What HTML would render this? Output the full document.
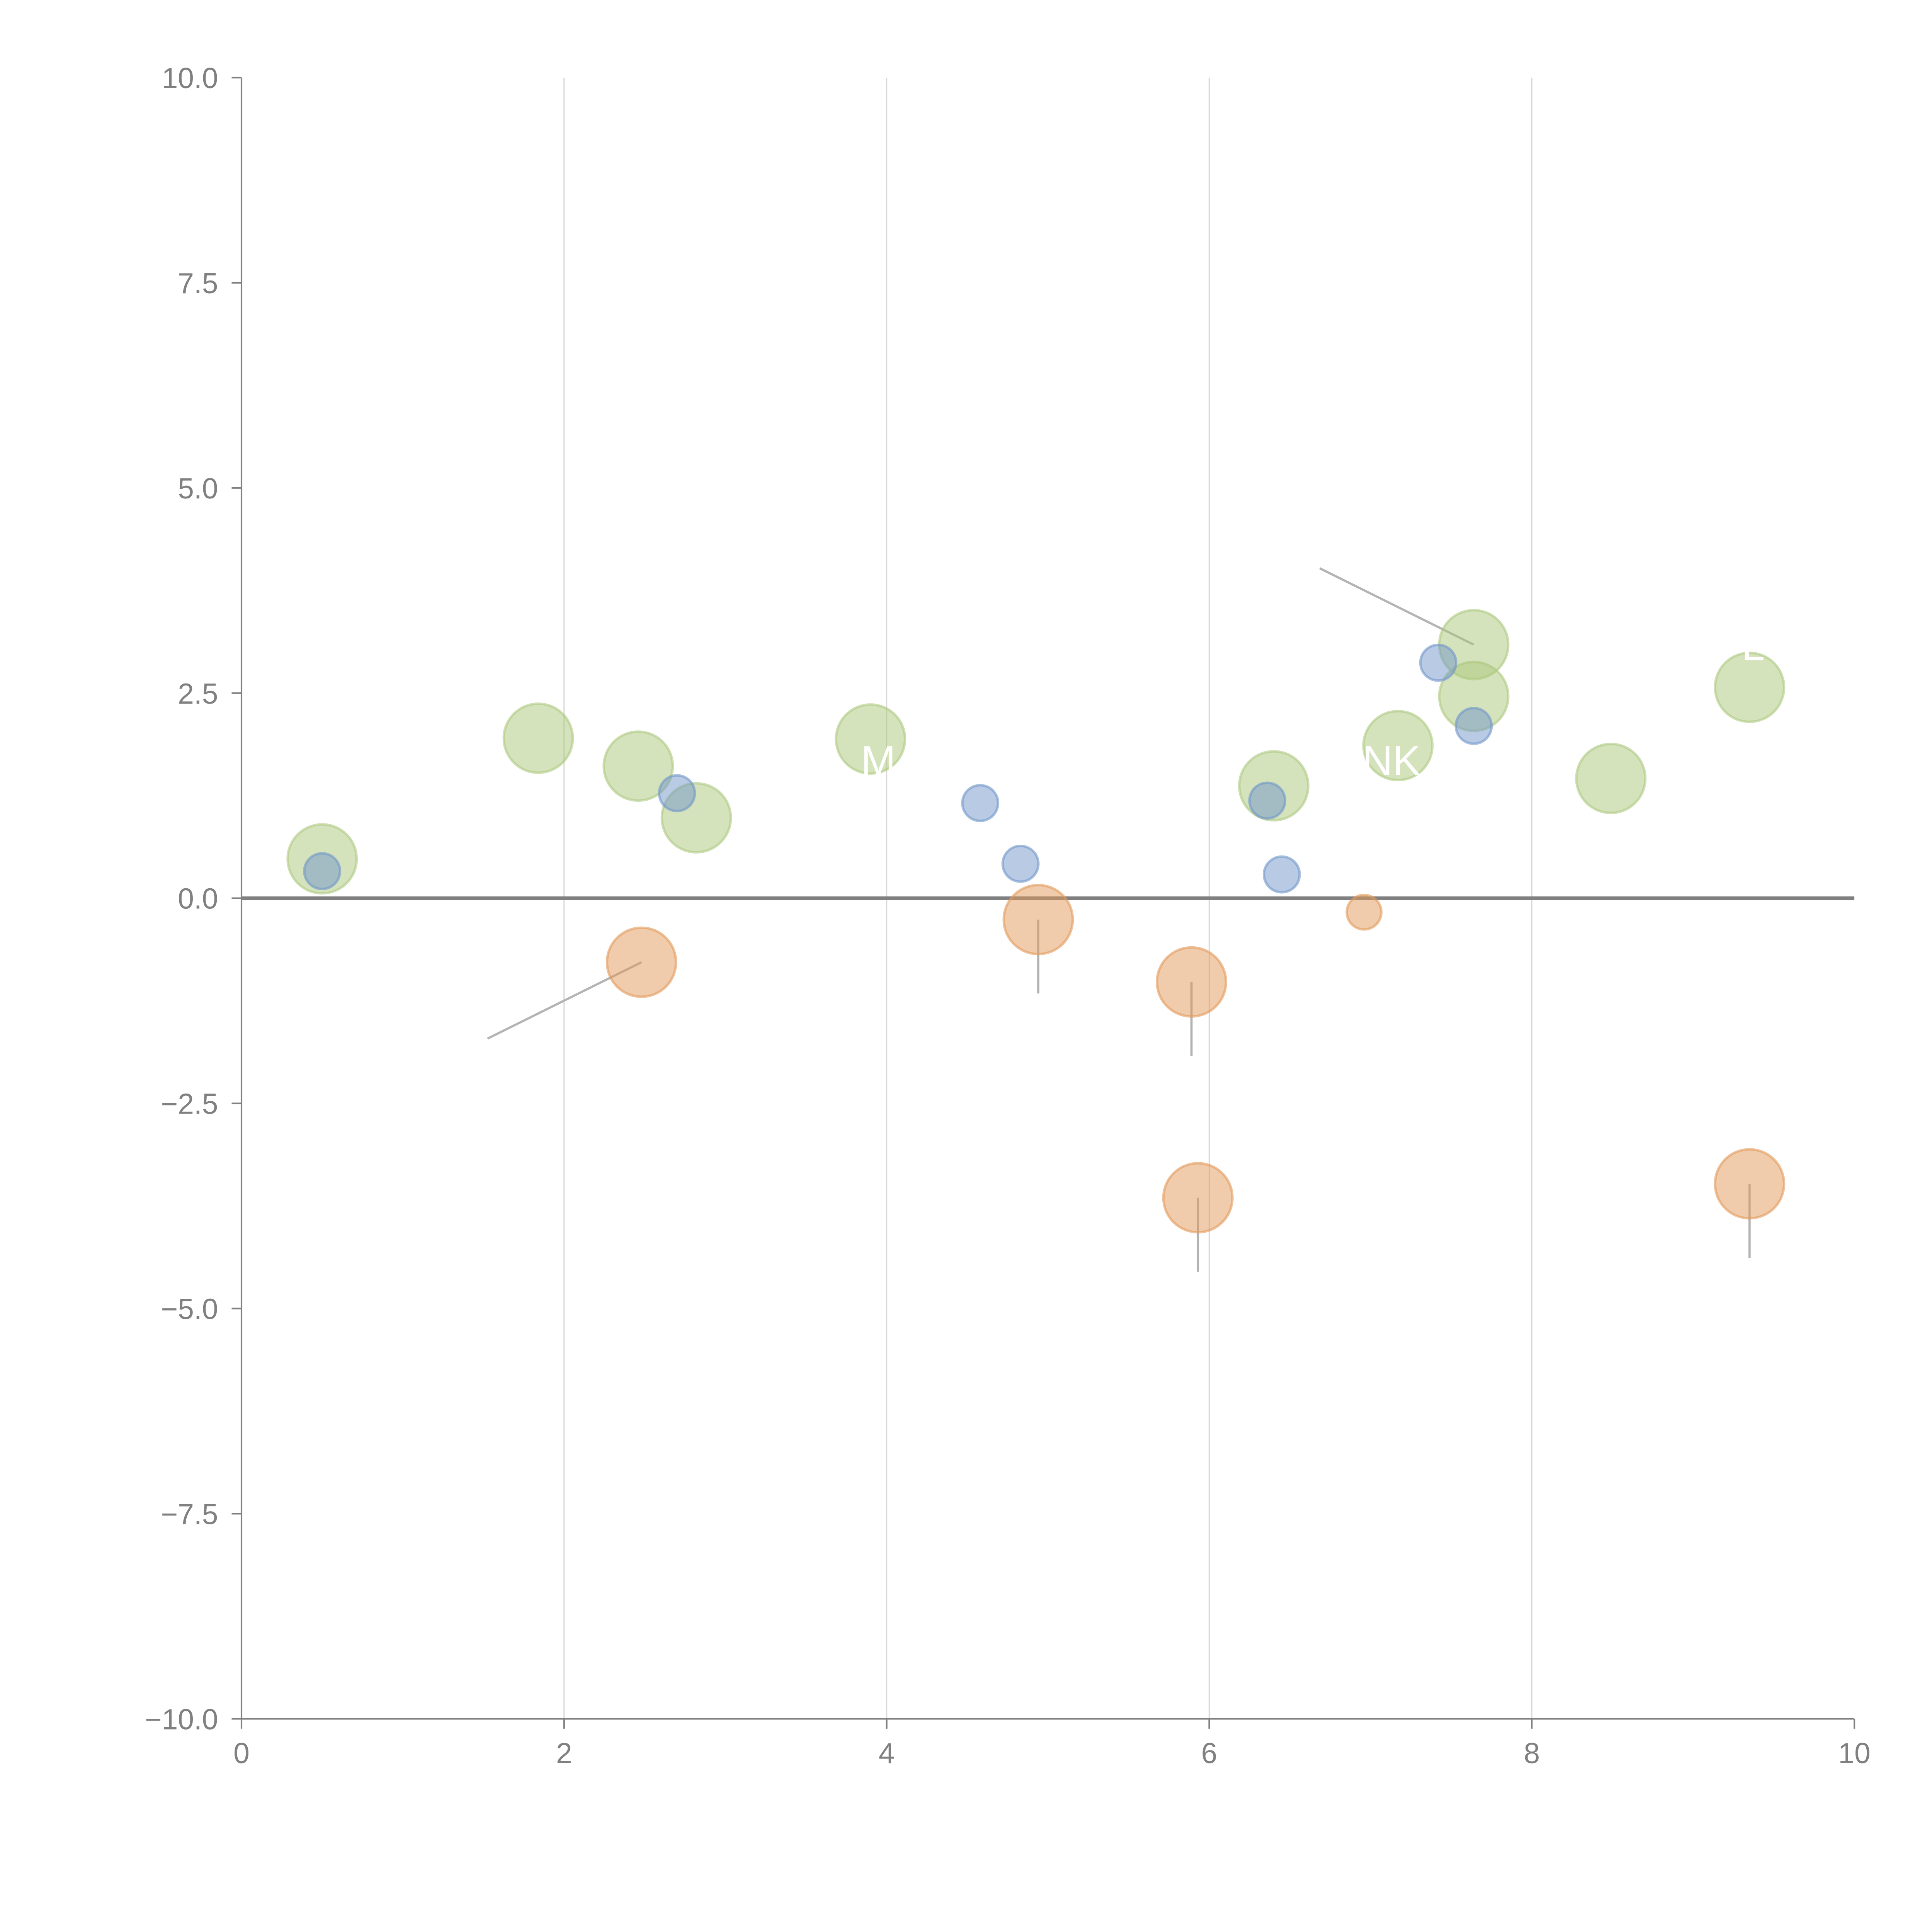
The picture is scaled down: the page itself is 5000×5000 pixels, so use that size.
<!DOCTYPE html>
<html><head><meta charset="utf-8"><style>html,body{margin:0;padding:0;background:#fff}svg{display:block}</style></head>
<body>
<svg id="chart" width="5000" height="5000" viewBox="0 0 1568 1568" xmlns="http://www.w3.org/2000/svg" font-family="Liberation Sans, sans-serif">
<g id="grid"></g>
<g id="axes"></g>
<g id="marks"></g>
</svg>
<script>
const xTicks = [0, 2, 4, 6, 8, 10];
const yTicks = [10, 7.5, 5, 2.5, 0, -2.5, -5, -7.5, -10];
const greenX = [0.50, 1.84, 2.46, 2.82, 3.90, 6.40, 7.17, 7.64, 7.64, 8.49, 9.35];
const greenY = [0.48, 1.95, 1.61, 0.98, 1.94, 1.37, 1.86, 3.09, 2.46, 1.46, 2.57];
const blueX = [0.50, 2.70, 4.58, 4.83, 6.36, 6.45, 7.42, 7.64];
const blueY = [0.33, 1.28, 1.16, 0.42, 1.19, 0.29, 2.87, 2.10];
const orangeX = [2.48, 4.94, 5.89, 5.93, 6.96, 9.35];
const orangeY = [-0.78, -0.26, -1.02, -3.65, -0.17, -3.48];
const orangeR = [28, 28, 28, 28, 14, 28];
const labelText = ["M", "NK", "C", "L"];
const labelX = [3.84, 6.95, 8.9, 9.3];
const labelY = [1.50, 1.50, 1.25, 2.90];

const NS = "http://www.w3.org/2000/svg";
const X0 = 196, X1 = 1505, Y0 = 1395, Y1 = 63;
const sx = v => X0 + (v - 0) / 10 * (X1 - X0);
const sy = v => Y0 - (v + 10) / 20 * (Y0 - Y1);
function mk(tag, attrs, parent) {
  const e = document.createElementNS(NS, tag);
  for (const k in attrs) e.setAttribute(k, attrs[k]);
  parent.appendChild(e);
  return e;
}
const grid = document.getElementById('grid');
const axes = document.getElementById('axes');
const marks = document.getElementById('marks');

xTicks.forEach(t => {
  if (t > 0 && t < 10) {
    const g = mk('line', {x1: sx(t), x2: sx(t), y1: Y1, y2: Y0, stroke: '#d9d9d9', 'stroke-width': 1}, grid);
    
    
  }
  const tk = mk('line', {x1: sx(t), x2: sx(t), y1: Y0, y2: Y0 + 8, stroke: '#808080', 'stroke-width': 1.3}, axes);
  
  
  const lb = mk('text', {x: sx(t), y: Y0 + 36, 'text-anchor': 'middle', 'font-size': 23.5, fill: '#808080'}, axes);
  lb.textContent = t;
  
  
});
yTicks.forEach(t => {
  const tk = mk('line', {x1: X0 - 8, x2: X0, y1: sy(t), y2: sy(t), stroke: '#808080', 'stroke-width': 1.3}, axes);
  
  
  const lb = mk('text', {x: X0 - 19, y: sy(t) + 8.5, 'text-anchor': 'end', 'font-size': 23.5, fill: '#808080'}, axes);
  lb.textContent = (t < 0 ? '\u2212' + Math.abs(t).toFixed(1) : t.toFixed(1));
  
  
});
const ya = mk('line', {x1: X0, x2: X0, y1: Y1, y2: Y0, stroke: '#808080', 'stroke-width': 1.3}, axes);


const xa = mk('line', {x1: X0, x2: X1, y1: Y0, y2: Y0, stroke: '#808080', 'stroke-width': 1.3}, axes);


const zl = mk('line', {x1: X0, x2: X1, y1: sy(0), y2: sy(0), stroke: '#808080', 'stroke-width': 3}, axes);



function leader(x, y, dx, dy) {
  const l = mk('line', {x1: sx(x), y1: sy(y), x2: sx(x) + dx, y2: sy(y) + dy, stroke: '#b3b3b3', 'stroke-width': 1.8}, marks);
  
  
}
leader(orangeX[0], orangeY[0], -125, 62);
leader(orangeX[1], orangeY[1], 0, 60);
leader(orangeX[2], orangeY[2], 0, 60);
leader(orangeX[3], orangeY[3], 0, 60);
leader(orangeX[5], orangeY[5], 0, 60);
leader(greenX[7], greenY[7], -125, -62);

greenX.forEach((x, i) => {
  const c = mk('circle', {cx: sx(x), cy: sy(greenY[i]), r: 28, fill: '#a9c77a', 'fill-opacity': 0.5, stroke: '#a9c77a', 'stroke-opacity': 0.55, 'stroke-width': 2}, marks);
  
  
});
blueX.forEach((x, i) => {
  const c = mk('circle', {cx: sx(x), cy: sy(blueY[i]), r: 14.5, fill: '#7196c9', 'fill-opacity': 0.5, stroke: '#7196c9', 'stroke-opacity': 0.6, 'stroke-width': 2}, marks);
  
  
});
orangeX.forEach((x, i) => {
  const c = mk('circle', {cx: sx(x), cy: sy(orangeY[i]), r: orangeR[i], fill: '#e39a5a', 'fill-opacity': 0.5, stroke: '#e39a5a', 'stroke-opacity': 0.6, 'stroke-width': 2}, marks);
  
  
});
labelText.forEach((t, i) => {
  const lb = mk('text', {x: sx(labelX[i]), y: sy(labelY[i]), 'font-size': 34, fill: '#ffffff'}, marks);
  lb.textContent = t;
  
  
});
</script>
</body></html>
